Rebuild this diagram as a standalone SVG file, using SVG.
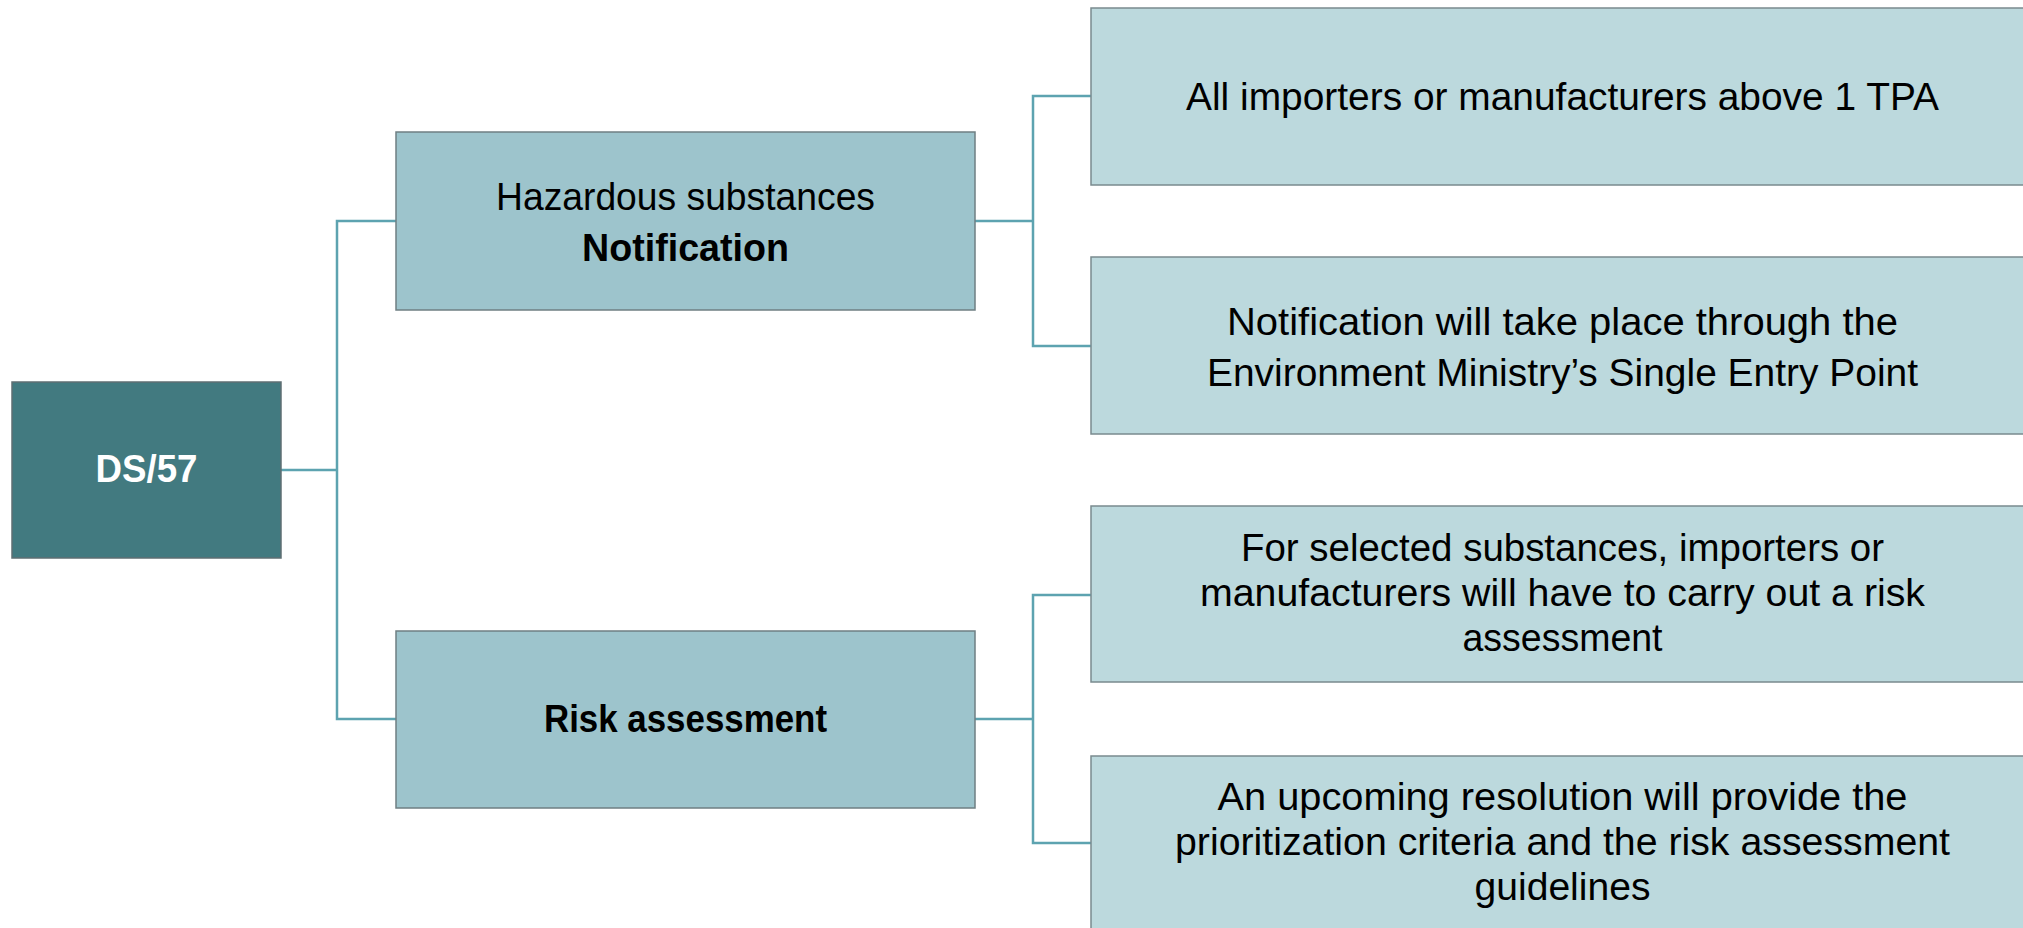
<svg xmlns="http://www.w3.org/2000/svg" width="2023" height="928" viewBox="0 0 2023 928">
<style>
.root{fill:#427A80;stroke:#5f6f73;stroke-width:1.5}
.mid{fill:#9DC4CC;stroke:#6f7f83;stroke-width:1.5}
.leaf{fill:#BCD9DD;stroke:#7a8a8e;stroke-width:1.5}
.conn{fill:none;stroke:#5DA3B0;stroke-width:2.5}
text{font-family:"Liberation Sans",Arial,sans-serif;font-size:38px;fill:#000;text-anchor:middle}
.b{font-weight:bold}
.w{fill:#fff}
</style>
<rect width="2023" height="928" fill="#fff"/>
<g id="connectors">
<polyline class="conn" points="281,470 337,470"/>
<polyline class="conn" points="396,221 337,221 337,719 396,719"/>
<polyline class="conn" points="975,221 1033,221"/>
<polyline class="conn" points="1091,96 1033,96 1033,346 1091,346"/>
<polyline class="conn" points="975,719 1033,719"/>
<polyline class="conn" points="1091,595 1033,595 1033,843 1091,843"/>
</g>
<g id="node-ds57">
<rect class="root" x="12" y="382" width="269" height="176"/>
<text class="b w" x="146.5" y="482" textLength="102" lengthAdjust="spacingAndGlyphs">DS/57</text>
</g>
<g id="node-notification">
<rect class="mid" x="396" y="132" width="579" height="178"/>
<text x="685.5" y="210" textLength="379" lengthAdjust="spacingAndGlyphs">Hazardous substances</text>
<text class="b" x="685.5" y="261" textLength="207" lengthAdjust="spacingAndGlyphs">Notification</text>
</g>
<g id="node-risk">
<rect class="mid" x="396" y="631" width="579" height="177"/>
<text class="b" x="685.5" y="732" textLength="283" lengthAdjust="spacingAndGlyphs">Risk assessment</text>
</g>
<g id="node-importers">
<rect class="leaf" x="1091" y="8" width="942" height="177"/>
<text x="1562.5" y="110" textLength="753" lengthAdjust="spacingAndGlyphs">All importers or manufacturers above 1 TPA</text>
</g>
<g id="node-entry-point">
<rect class="leaf" x="1091" y="257" width="942" height="177"/>
<text x="1562.5" y="335" textLength="671" lengthAdjust="spacingAndGlyphs">Notification will take place through the</text>
<text x="1562.5" y="386" textLength="711" lengthAdjust="spacingAndGlyphs">Environment Ministry’s Single Entry Point</text>
</g>
<g id="node-selected">
<rect class="leaf" x="1091" y="506" width="942" height="176"/>
<text x="1562.5" y="561" textLength="643" lengthAdjust="spacingAndGlyphs">For selected substances, importers or</text>
<text x="1562.5" y="606" textLength="725" lengthAdjust="spacingAndGlyphs">manufacturers will have to carry out a risk</text>
<text x="1562.5" y="651" textLength="200" lengthAdjust="spacingAndGlyphs">assessment</text>
</g>
<g id="node-resolution">
<rect class="leaf" x="1091" y="756" width="942" height="176"/>
<text x="1562.5" y="810" textLength="690" lengthAdjust="spacingAndGlyphs">An upcoming resolution will provide the</text>
<text x="1562.5" y="855" textLength="775" lengthAdjust="spacingAndGlyphs">prioritization criteria and the risk assessment</text>
<text x="1562.5" y="900" textLength="176" lengthAdjust="spacingAndGlyphs">guidelines</text>
</g>
</svg>
